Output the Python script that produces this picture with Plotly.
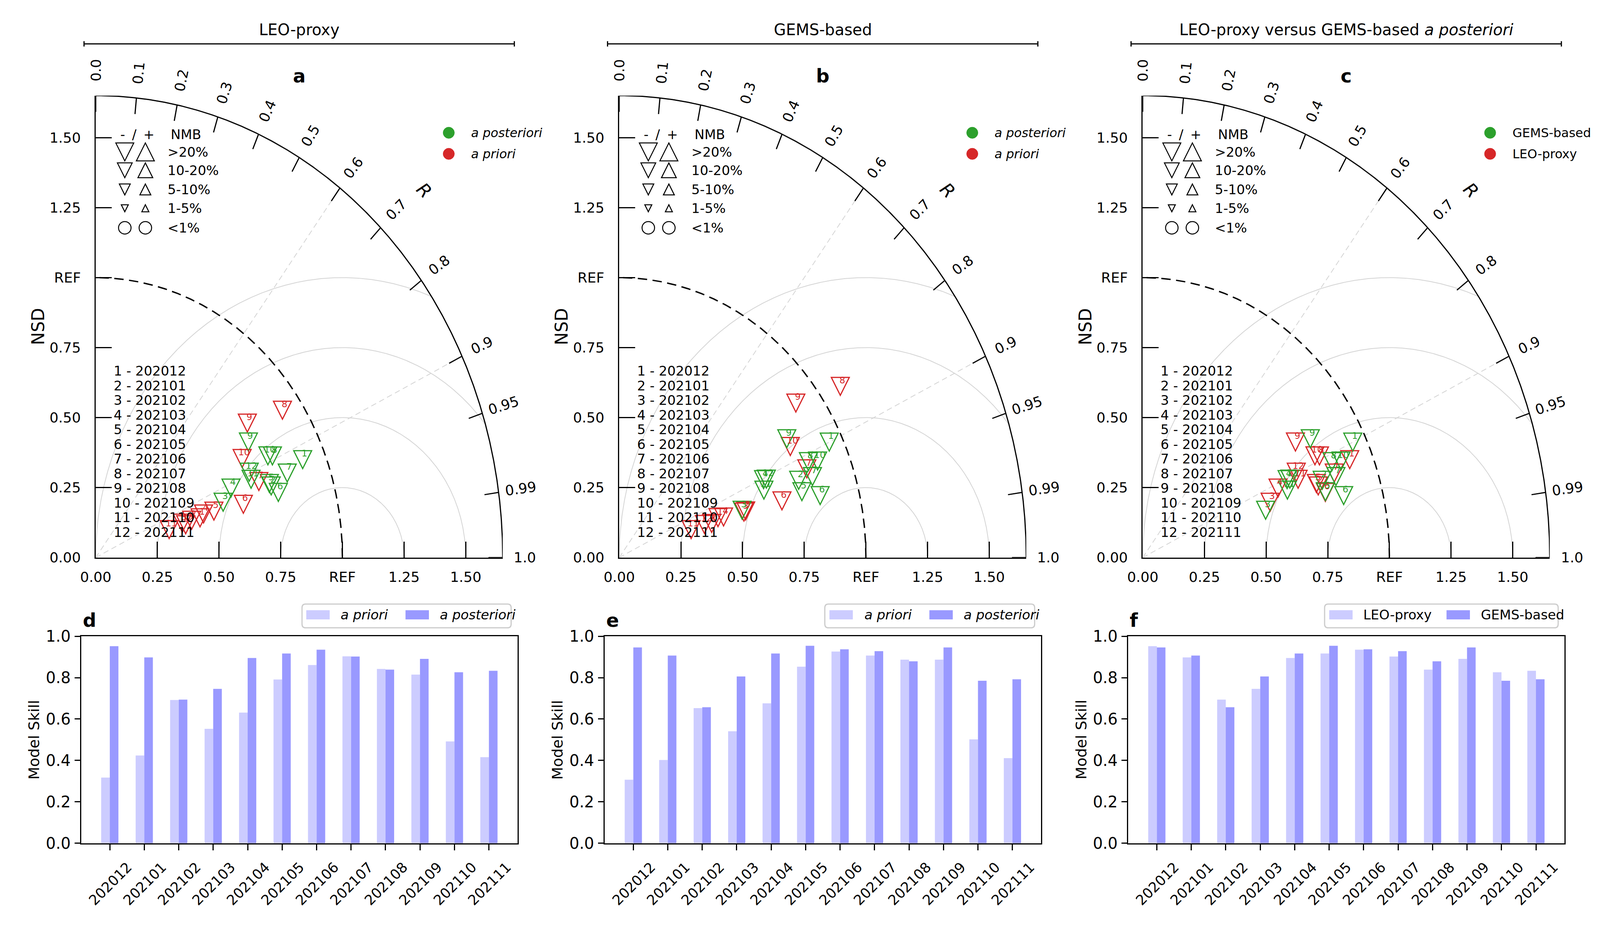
import numpy as np
import plotly.graph_objects as go

months = ["202012", "202101", "202102", "202103", "202104", "202105",
          "202106", "202107", "202108", "202109", "202110", "202111"]

# Taylor statistics: normalised standard deviation and correlation
leo_prior_nsd = [0.446, 0.411, 0.372, 0.464, 0.507, 0.628, 0.715, 0.922, 0.780, 0.691, 0.314, 0.383]
leo_prior_r = [0.948, 0.946, 0.944, 0.942, 0.945, 0.953, 0.925, 0.821, 0.788, 0.859, 0.948, 0.952]
leo_post_nsd = [0.909, 0.756, 0.553, 0.602, 0.752, 0.776, 0.833, 0.803, 0.744, 0.787, 0.689, 0.693]
leo_post_r = [0.923, 0.941, 0.934, 0.911, 0.936, 0.954, 0.932, 0.892, 0.832, 0.887, 0.914, 0.898]
gems_prior_nsd = [0.425, 0.394, 0.531, 0.447, 0.539, 0.690, 0.824, 1.085, 0.904, 0.799, 0.308, 0.365]
gems_prior_r = [0.942, 0.951, 0.952, 0.946, 0.951, 0.956, 0.923, 0.826, 0.792, 0.868, 0.946, 0.946]
gems_post_nsd = [0.946, 0.778, 0.526, 0.648, 0.777, 0.844, 0.835, 0.840, 0.801, 0.875, 0.634, 0.659]
gems_post_r = [0.900, 0.935, 0.947, 0.903, 0.953, 0.965, 0.938, 0.913, 0.848, 0.919, 0.925, 0.905]

# model skill
skill_leo_prior = [0.317, 0.424, 0.692, 0.553, 0.631, 0.791, 0.861, 0.903, 0.842, 0.815, 0.492, 0.416]
skill_leo_post = [0.952, 0.898, 0.694, 0.746, 0.895, 0.917, 0.935, 0.902, 0.839, 0.891, 0.826, 0.833]
skill_gems_prior = [0.307, 0.402, 0.653, 0.541, 0.676, 0.853, 0.926, 0.907, 0.887, 0.887, 0.502, 0.411]
skill_gems_post = [0.946, 0.907, 0.657, 0.806, 0.917, 0.954, 0.937, 0.928, 0.879, 0.946, 0.785, 0.792]

corr_ticks = [0.0, 0.1, 0.2, 0.3, 0.4, 0.5, 0.6, 0.7, 0.8, 0.9, 0.95, 0.99, 1.0]
corr_labels = ["0.0", "0.1", "0.2", "0.3", "0.4", "0.5", "0.6", "0.7", "0.8", "0.9", "0.95", "0.99", "1.0"]
nsd_ticks = [0, 0.25, 0.5, 0.75, 1.0, 1.25, 1.5]
nsd_labels = ["0.00", "0.25", "0.50", "0.75", "REF", "1.25", "1.50"]
nmb_labels = [">20%", "10-20%", "5-10%", "1-5%", "<1%"]

# layout is laid out on a 4470 x 2367 grid and given to plotly as paper fractions
W, H = 4470, 2367
RED, GREEN = "#d62728", "#2ca02c"
LIGHT, DARK = "#ccccff", "#9999ff"
RMAX = 1.65
SX, SY, Y0 = 695.9, 730.6, 1431.6   # taylor axes: px per unit and baseline
FONT = "DejaVu Sans"


def px(v):
    return v / W


def py(v):
    return 1 - v / H


def label(xp, yp, text, size, **kw):
    # paper-positioned text, given in grid pixels from the top-left corner
    d = dict(x=px(xp), y=py(yp), xref="paper", yref="paper", text=text, showarrow=False,
             xanchor="center", yanchor="middle", font=dict(size=size, color="black"))
    d.update(kw)
    return d


fig = go.Figure()
shapes = []
annots = []

TRI_DOWN = "M-{h},{h} L{h},{h} L0,-{h} Z"
TRI_UP = "M-{h},-{h} L{h},-{h} L0,{h} Z"

panels = [
    dict(title="LEO-proxy", letter="a",
         series=[(leo_prior_nsd, leo_prior_r, RED), (leo_post_nsd, leo_post_r, GREEN)],
         legend=[("<i>a posteriori</i>", GREEN), ("<i>a priori</i>", RED)]),
    dict(title="GEMS-based", letter="b",
         series=[(gems_prior_nsd, gems_prior_r, RED), (gems_post_nsd, gems_post_r, GREEN)],
         legend=[("<i>a posteriori</i>", GREEN), ("<i>a priori</i>", RED)]),
    dict(title="LEO-proxy versus GEMS-based <i>a posteriori</i>", letter="c",
         series=[(leo_post_nsd, leo_post_r, RED), (gems_post_nsd, gems_post_r, GREEN)],
         legend=[("GEMS-based", GREEN), ("LEO-proxy", RED)]),
]

t = np.linspace(0, np.pi, 721)
tq = np.linspace(0, np.pi / 2, 361)

for i, p in enumerate(panels):
    n = "" if i == 0 else str(i + 1)
    xr, yr = "x" + n, "y" + n
    x0 = 226 + 1477 * i

    ax = dict(range=[0, RMAX], showgrid=False, zeroline=False, showline=True,
              linecolor="black", linewidth=3, ticks="inside", ticklen=41, tickwidth=3,
              tickcolor="black", tickvals=nsd_ticks, ticktext=nsd_labels,
              tickfont=dict(size=36, color="black"))
    fig.update_layout(**{
        "xaxis" + n: dict(ax, domain=[px(x0), px(x0 + RMAX * SX)], anchor=yr, ticklabelstandoff=16),
        "yaxis" + n: dict(ax, domain=[py(Y0), py(Y0 - RMAX * SY)], anchor=xr, ticklabelstandoff=28),
    })

    # RMSD circles around REF
    gx, gy = [], []
    for rad in [0.25, 0.5, 0.75, 1.0]:
        cx, cy = 1 + rad * np.cos(t), rad * np.sin(t)
        keep = (cx ** 2 + cy ** 2 <= RMAX ** 2) & (cx >= 0)
        gx += list(np.where(keep, cx, None)) + [None]
        gy += list(np.where(keep, cy, None)) + [None]
    fig.add_trace(go.Scatter(x=gx, y=gy, mode="lines", xaxis=xr, yaxis=yr, showlegend=False,
                             line=dict(color="#d4d4d4", width=2), hoverinfo="skip"))
    # correlation guide lines
    lx, ly = [], []
    for c in [0.6, 0.9]:
        s = np.sqrt(1 - c ** 2)
        lx += [0, RMAX * c, None]
        ly += [0, RMAX * s, None]
    fig.add_trace(go.Scatter(x=lx, y=ly, mode="lines", xaxis=xr, yaxis=yr, showlegend=False,
                             line=dict(color="#d4d4d4", width=2, dash="14px,9px"), hoverinfo="skip"))
    # REF arc
    fig.add_trace(go.Scatter(x=np.cos(tq), y=np.sin(tq), mode="lines", xaxis=xr, yaxis=yr,
                             showlegend=False, line=dict(color="black", width=3.5, dash="24px,14px"),
                             hoverinfo="skip"))
    # outer arc and correlation ticks
    fig.add_trace(go.Scatter(x=RMAX * np.cos(tq), y=RMAX * np.sin(tq), mode="lines", xaxis=xr,
                             yaxis=yr, showlegend=False, line=dict(color="black", width=3),
                             hoverinfo="skip"))
    tx, ty = [], []
    for c in corr_ticks:
        s = np.sqrt(1 - c ** 2)
        tx += [(RMAX - 0.058) * c, RMAX * c, None]
        ty += [(RMAX - 0.058) * s, RMAX * s, None]
    fig.add_trace(go.Scatter(x=tx, y=ty, mode="lines", xaxis=xr, yaxis=yr, showlegend=False,
                             line=dict(color="black", width=3), hoverinfo="skip"))
    # correlation labels sit outside the axes range, so place them on paper
    for c, lab in zip(corr_ticks, corr_labels):
        th = np.arccos(c)
        annots.append(label(x0 + 1.74 * np.cos(th) * SX, Y0 - 1.74 * np.sin(th) * SY, lab, 36,
                            textangle=-np.degrees(th)))
    annots.append(label(x0 + 1.331 * SX, Y0 - 1.312 * SY, "<i>R</i>", 46, textangle=45))

    # data points
    for nsd, r, col in p["series"]:
        nsd, r = np.array(nsd), np.array(r)
        xs, ys = nsd * r, nsd * np.sqrt(1 - r ** 2)
        for k, (xv, yv) in enumerate(zip(xs, ys)):
            shapes.append(dict(type="path", xref=xr, yref=yr, xsizemode="pixel", ysizemode="pixel",
                               xanchor=xv, yanchor=yv, path=TRI_DOWN.format(h=23),
                               line=dict(color=col, width=3), fillcolor="rgba(0,0,0,0)"))
            annots.append(dict(x=xv, y=yv, xref=xr, yref=yr, text=str(k + 1), showarrow=False,
                               xshift=5, yshift=16, font=dict(size=23, color=col)))

    # month key
    for k, m in enumerate(months):
        annots.append(label(x0 + 48, 944.4 + 38.27 * k, f"{k + 1} - {m}", 34, xanchor="left"))

    # NMB key
    for txt, dx in [("-", 76), ("/", 109), ("+", 150), ("NMB", 255)]:
        annots.append(label(x0 + dx, 327, txt, 34))
    for lab, yy, h in zip(nmb_labels, [373, 421, 471, 520, 571], [23, 19, 14, 9, 0]):
        for dx, tri in [(82, TRI_DOWN), (140, TRI_UP)]:
            if h:
                shapes.append(dict(type="path", xref="paper", yref="paper", xsizemode="pixel",
                                   ysizemode="pixel", xanchor=px(x0 + dx), yanchor=py(yy),
                                   path=tri.format(h=h), line=dict(color="black", width=2.5)))
            else:
                shapes.append(dict(type="circle", xref="paper", yref="paper", xsizemode="pixel",
                                   ysizemode="pixel", xanchor=px(x0 + dx), yanchor=py(yy),
                                   x0=-16, x1=16, y0=-16, y1=16,
                                   line=dict(color="black", width=2.5)))
        annots.append(label(x0 + 201, yy, lab, 34, xanchor="left"))

    # colour key
    kx = x0 + (996 if i < 2 else 980)
    for (lab, col), yy in zip(p["legend"], [323, 378]):
        shapes.append(dict(type="circle", xref="paper", yref="paper", xsizemode="pixel",
                           ysizemode="pixel", xanchor=px(kx), yanchor=py(yy),
                           x0=-14.5, x1=14.5, y0=-14.5, y1=14.5, fillcolor=col,
                           line=dict(color=col, width=1)))
        annots.append(label(kx + 61, yy, lab, 32, xanchor="left"))

    # axis title, panel letter, bracket title
    annots.append(label(x0 - 162, 829, "NSD", 44, textangle=-90))
    annots.append(label(x0 + 574, 174, "<b>" + p["letter"] + "</b>", 48))
    annots.append(label(x0 + 574, 54.5, p["title"], 40))
    shapes.append(dict(type="line", xref="paper", yref="paper", x0=px(x0 - 33), x1=px(x0 + 1181),
                       y0=py(91), y1=py(91), line=dict(color="black", width=3)))
    for ex in [x0 - 33, x0 + 1181]:
        shapes.append(dict(type="line", xref="paper", yref="paper", x0=px(ex), x1=px(ex),
                           y0=py(84), y1=py(98), line=dict(color="black", width=3)))


def rrect(a0, b0, a1, b1, r=10):
    return (f"M{px(a0 + r)},{py(b0)} L{px(a1 - r)},{py(b0)} Q{px(a1)},{py(b0)} {px(a1)},{py(b0 + r)} "
            f"L{px(a1)},{py(b1 - r)} Q{px(a1)},{py(b1)} {px(a1 - r)},{py(b1)} "
            f"L{px(a0 + r)},{py(b1)} Q{px(a0)},{py(b1)} {px(a0)},{py(b1 - r)} "
            f"L{px(a0)},{py(b0 + r)} Q{px(a0)},{py(b0)} {px(a0 + r)},{py(b0)} Z")


bar_panels = [
    dict(letter="d", vals=[skill_leo_prior, skill_leo_post],
         names=["<i>a priori</i>", "<i>a posteriori</i>"], box=623, items=[(635, 730), (915, 1010)]),
    dict(letter="e", vals=[skill_gems_prior, skill_gems_post],
         names=["<i>a priori</i>", "<i>a posteriori</i>"], box=621, items=[(634, 731), (916, 1010)]),
    dict(letter="f", vals=[skill_leo_post, skill_gems_post],
         names=["LEO-proxy", "GEMS-based"], box=554, items=[(567, 661), (898, 993)]),
]

for i, b in enumerate(bar_panels):
    n = str(i + 4)
    xr, yr = "x" + n, "y" + n
    x0 = 185 + 1477 * i
    fig.update_layout(**{
        "xaxis" + n: dict(domain=[px(x0), px(x0 + 1231)], anchor=yr, type="category",
                          range=[-0.83, 11.83], showline=True, mirror=True, linecolor="black",
                          linewidth=3, ticks="outside", ticklen=15, tickwidth=3, tickcolor="black",
                          tickangle=-45, tickfont=dict(size=36, color="black"),
                          ticklabelshift=46, ticklabelstandoff=8,
                          showgrid=False, zeroline=False),
        "yaxis" + n: dict(domain=[py(2177), py(1637)], anchor=xr, range=[0, 1],
                          tickvals=[0, 0.2, 0.4, 0.6, 0.8, 1.0],
                          ticktext=["0.0", "0.2", "0.4", "0.6", "0.8", "1.0"],
                          showline=True, mirror=True, linecolor="black", linewidth=3,
                          ticks="outside", ticklen=14, tickwidth=3, tickcolor="black",
                          tickfont=dict(size=40, color="black"), ticklabelstandoff=2,
                          showgrid=False, zeroline=False),
    })
    for vals, col in zip(b["vals"], [LIGHT, DARK]):
        fig.add_trace(go.Bar(x=months, y=vals, marker=dict(color=col, line=dict(width=0)),
                             xaxis=xr, yaxis=yr, showlegend=False))
    annots.append(label(x0 - 133, 1907, "Model Skill", 38, textangle=-90))
    annots.append(label(x0 + 2, 1595, "<b>" + b["letter"] + "</b>", 48, xanchor="left"))
    shapes.append(dict(type="path", xref="paper", yref="paper", path=rrect(x0 + b["box"], 1553, x0 + 1213, 1615),
                       line=dict(color="#cccccc", width=3), fillcolor="white"))
    for (sx, tx0), col, name in zip(b["items"], [LIGHT, DARK], b["names"]):
        shapes.append(dict(type="rect", xref="paper", yref="paper", x0=px(x0 + sx), x1=px(x0 + sx + 66),
                           y0=py(1593), y1=py(1569), fillcolor=col, line=dict(width=0)))
        annots.append(label(x0 + tx0, 1581, name, 34, xanchor="left"))

# no fixed size: the figure fills the browser window
fig.update_layout(autosize=True, margin=dict(l=0, r=0, t=0, b=0),
                  paper_bgcolor="white", plot_bgcolor="white",
                  font=dict(family=FONT, color="black"),
                  barmode="group", bargap=0.5, bargroupgap=0,
                  shapes=shapes, annotations=annots)

fig.write_html("out.html", default_width="100vw", default_height="100vh",
               config={"displayModeBar": False},
               post_script="document.body.style.margin='0';document.body.style.overflow='hidden';")
